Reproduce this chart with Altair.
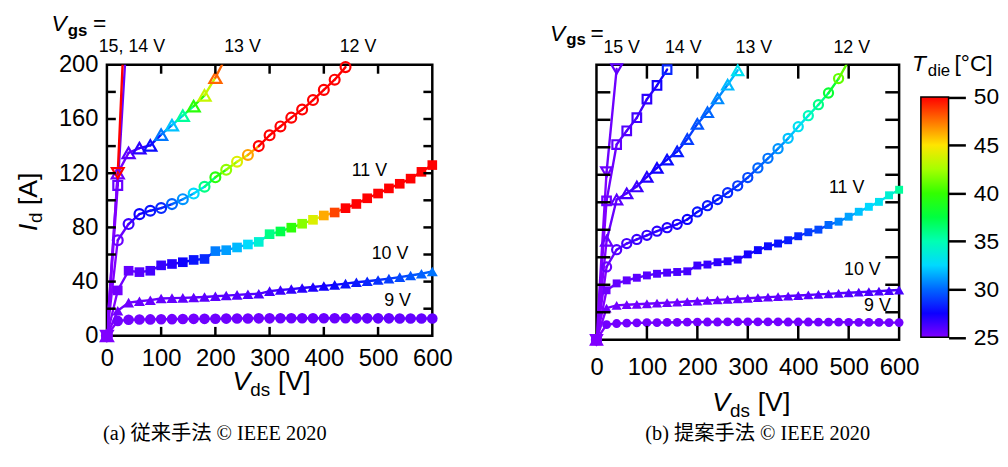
import colorsys
import altair as alt
import pandas as pd

# ---------------- data ----------------
V_GRID = [0, 20, 40, 60, 80, 100, 120, 140, 160, 180, 200, 220, 240, 260, 280, 300,
          320, 340, 360, 380, 400, 420, 440, 460, 480, 500, 520, 540, 560, 580, 600]

X_LABELS = [0, 100, 200, 300, 400, 500, 600]
Y_LABELS = [0, 40, 80, 120, 160, 200]
X_TICKS = [100, 200, 300, 400, 500]
Y_TICKS = [20, 40, 60, 80, 100, 120, 140, 160, 180]
CB_LABELS = [25, 30, 35, 40, 45, 50]
T_MIN, T_MAX = 25, 50

# (a) conventional method: drain current I_d [A] and die temperature [degC] per V_gs
A9_I = [0, 11.0, 11.8, 12.0, 12.1, 12.2, 12.3, 12.4, 12.5, 12.5, 12.6, 12.7, 12.8, 12.8, 12.9, 12.9,
        13.0, 13.0, 13.0, 13.0, 13.0, 13.0, 13.0, 12.9, 12.9, 12.9, 12.9, 12.8, 12.8, 12.8, 12.8]
A9_T = [25.0, 25.3, 25.3, 25.3, 25.3, 25.3, 25.3, 25.3, 25.3, 25.4, 25.4, 25.4, 25.4, 25.4, 25.4, 25.4,
        25.5, 25.5, 25.5, 25.5, 25.5, 25.5, 25.5, 25.5, 25.6, 25.6, 25.6, 25.6, 25.6, 25.6, 25.6]
A10_I = [0, 18.5, 24.5, 25.5, 26.3, 27.5, 27.8, 28.0, 28.3, 28.6, 29.2, 29.7, 30.2, 30.7, 31.0, 33.0,
         33.8, 34.5, 35.3, 36.0, 36.8, 37.6, 38.5, 39.5, 40.3, 41.2, 42.2, 43.3, 44.5, 45.8, 47.5]
A10_T = [25.0, 25.3, 25.4, 25.5, 25.5, 25.6, 25.6, 25.7, 25.7, 25.8, 25.8, 25.9, 25.9, 26.0, 26.1, 26.3,
         26.5, 26.7, 26.9, 27.1, 27.4, 27.7, 27.9, 28.1, 28.4, 28.7, 29.0, 29.3, 29.6, 29.9, 30.3]
A11_I = [0, 33.5, 48.0, 47.0, 48.0, 52.0, 53.0, 54.3, 56.0, 56.7, 62.5, 63.2, 65.2, 67.4, 69.3, 75.0,
         77.0, 79.8, 82.7, 85.6, 88.8, 91.0, 94.2, 97.3, 101.5, 105.0, 108.8, 112.2, 116.0, 121.0, 126.0]
A11_T = [25.0, 25.3, 25.6, 25.9, 26.3, 26.6, 27.0, 27.5, 28.0, 28.5, 30.5, 31.2, 31.8, 32.6, 34.0, 36.0,
         37.3, 39.7, 41.8, 44.0, 46.3, 48.5, 50.0, 50.0, 50.0, 50.0, 50.0, 50.0, 50.0, 50.0, 50.0]
A12_I = [0, 70.5, 82.5, 89.8, 92.3, 94.3, 97.2, 100.8, 105.0, 110.0, 117.0, 122.5, 128.5, 133.5, 140.0,
         148.0, 154.5, 161.0, 167.0, 174.0, 181.5, 189.0, 198.3]
A12_T = [25.0, 25.5, 26.5, 27.5, 28.0, 28.5, 30.0, 31.0, 32.5, 36.0, 39.5, 42.0, 44.0, 46.5, 50.0,
         50.0, 50.0, 50.0, 50.0, 50.0, 50.0, 50.0, 50.0]
A13_I = [0, 120.0, 135.0, 138.5, 140.5, 148.5, 155.5, 162.5, 169.5, 177.5, 190.5, 206.0]
A13_T = [25.0, 25.3, 25.8, 26.8, 27.8, 30.4, 32.0, 35.5, 39.6, 43.4, 47.8, 48.5]
A14_I = [0, 111.0, 245.0]
A14_T = [25.0, 25.5, 26.0]
A15_I = [0, 120.0, 300.0]
A15_T = [25.0, 50.0, 50.0]

# (b) proposed method
B9_I = [0, 11.0, 11.8, 12.1, 12.3, 12.4, 12.5, 12.6, 12.7, 12.8, 12.8, 12.9, 12.9, 13.0, 13.0, 13.0,
        13.0, 13.0, 13.0, 12.9, 12.9, 12.9, 12.8, 12.8, 12.8, 12.7, 12.7, 12.6, 12.6, 12.5, 12.5]
B9_T = [25.0, 25.3, 25.3, 25.3, 25.3, 25.3, 25.3, 25.3, 25.3, 25.3, 25.3, 25.3, 25.3, 25.3, 25.3, 25.3,
        25.3, 25.3, 25.3, 25.3, 25.3, 25.3, 25.3, 25.3, 25.3, 25.3, 25.3, 25.3, 25.3, 25.3, 25.3]
B10_I = [0, 23.0, 25.0, 25.5, 25.8, 26.2, 26.6, 27.0, 27.4, 27.8, 28.2, 28.6, 29.0, 29.4, 29.8, 30.2,
         30.6, 31.0, 31.4, 31.8, 32.2, 32.6, 33.0, 33.4, 33.8, 34.2, 34.6, 35.0, 35.4, 35.8, 36.2]
B10_T = [25.0, 25.3, 25.3, 25.3, 25.3, 25.4, 25.4, 25.4, 25.4, 25.5, 25.5, 25.5, 25.5, 25.6, 25.6, 25.6,
         25.7, 25.7, 25.7, 25.8, 25.8, 25.8, 25.9, 25.9, 25.9, 26.0, 26.0, 26.1, 26.1, 26.2, 26.2]
B11_I = [0, 36.0, 41.0, 43.2, 45.1, 46.8, 48.0, 48.8, 49.3, 49.8, 54.0, 54.7, 56.4, 57.1, 58.3, 62.1,
         65.2, 68.0, 70.0, 72.4, 75.3, 78.2, 80.1, 83.5, 85.9, 89.5, 93.1, 96.7, 100.3, 105.1, 109.1]
B11_T = [25.0, 25.4, 25.6, 25.7, 25.8, 25.9, 26.0, 26.1, 26.2, 26.3, 26.5, 26.6, 26.8, 26.9, 27.0, 27.3,
         27.6, 27.8, 28.0, 28.2, 28.4, 29.0, 29.3, 30.0, 30.7, 31.3, 32.0, 32.5, 33.0, 34.0, 35.5]
B12_I = [0, 53.0, 65.5, 70.0, 73.0, 76.0, 79.0, 81.5, 84.0, 87.5, 93.0, 97.5, 102.0, 107.0, 112.0,
         118.0, 125.0, 132.0, 139.0, 146.5, 155.0, 163.0, 171.0, 179.5, 190.0, 203.0]
B12_T = [25.0, 25.5, 26.0, 26.3, 26.5, 26.7, 26.8, 27.0, 27.2, 27.5, 28.0, 28.1, 28.3, 28.5, 28.9,
         29.3, 30.0, 30.3, 31.0, 32.0, 33.0, 34.7, 36.0, 38.0, 41.0, 42.0]
B13_I = [0, 72.0, 102.0, 106.5, 111.5, 118.5, 125.0, 131.0, 137.0, 146.0, 157.0, 165.5, 175.5, 185.5, 196.0]
B13_T = [25.0, 25.5, 25.8, 26.2, 26.5, 27.0, 27.4, 27.8, 28.2, 29.0, 29.6, 30.0, 30.8, 31.8, 33.0]
B14_I = [0, 101.0, 142.0, 152.0, 161.5, 175.0, 185.0, 196.5]
B14_T = [25.0, 25.4, 25.7, 26.0, 26.4, 26.8, 27.4, 28.5]
B15_I = [0, 122.0, 197.0]
B15_T = [25.0, 25.4, 25.7]

# curve labels (data coordinates)
A_LAB_TEXT = ["15, 14 V", "13 V", "12 V", "11 V", "10 V", "9 V"]
A_LAB_V = [46, 250, 463, 484, 522, 536]
A_LAB_I = [213, 213, 213, 121.5, 60.5, 25.5]
B_LAB_TEXT = ["15 V", "14 V", "13 V", "12 V", "11 V", "10 V", "9 V"]
B_LAB_V = [50, 172, 312, 506, 496, 527, 557]
B_LAB_I = [212, 212, 212, 212, 110.3, 50.6, 24.5]

CAPTION_A = "(a) 従来手法 © IEEE 2020"
CAPTION_B = "(b) 提案手法 © IEEE 2020"

# ---------------- styling ----------------
SANS = "Liberation Sans"
SERIF_CJK = "Liberation Serif, Noto Sans CJK JP"

T_STOPS = [T_MIN + k * (T_MAX - T_MIN) / 10 for k in range(11)]


def hue_hex(k):
    r, g, b = colorsys.hsv_to_rgb((270 - 27 * k) / 360.0, 1.0, 1.0)
    return "#%02x%02x%02x" % (round(r * 255), round(g * 255), round(b * 255))


COLOR_STOPS = [hue_hex(k) for k in range(11)]
CSCALE = alt.Scale(domain=T_STOPS, range=COLOR_STOPS, interpolate="rgb", clamp=True)

MARKS = {"9": ("circle", True), "10": ("triangle-up", True), "11": ("square", True),
         "12": ("circle", False), "13": ("triangle-up", False), "14": ("square", False),
         "15": ("triangle-down", False)}

ONE = pd.DataFrame({"k": [0]})


def txt(s, x, y, size, style="normal", weight="normal", angle=0, align="left", font=SANS):
    return alt.Chart(ONE).mark_text(
        text=s, font=font, fontSize=size, fontStyle=style, fontWeight=weight, angle=angle,
        align=align, baseline="alphabetic", color="black"
    ).encode(x=alt.value(x), y=alt.value(y))


def build_layers(curves, sizes, W, H, tick_len, xlab_pad, show_y, lab_text, lab_v, lab_i, annots):
    xs = alt.Scale(domain=[0, 600], nice=False, zero=False)
    ys = alt.Scale(domain=[0, 200], nice=False, zero=False)
    xax = alt.Axis(values=X_LABELS, title=None, ticks=False, domain=False, grid=False,
                   labelFont=SANS, labelFontSize=24, labelColor="black", labelPadding=xlab_pad,
                   labelFlush=False, labelOverlap=False, labelAngle=0)
    if show_y:
        yax = alt.Axis(values=Y_LABELS, title=None, ticks=False, domain=False, grid=False,
                       labelFont=SANS, labelFontSize=24, labelColor="black", labelPadding=9,
                       labelFlush=False, labelOverlap=False)
    else:
        yax = None

    def X(f):
        return alt.X(f, type="quantitative", scale=xs, axis=xax)

    def Y(f):
        return alt.Y(f, type="quantitative", scale=ys, axis=yax)

    layers = []
    seg_rows = []
    for key, (I, T) in curves.items():
        V = V_GRID[:len(I)]
        for j in range(len(I) - 1):
            seg_rows.append({"V0": V[j], "I0": I[j], "V1": V[j + 1], "I1": I[j + 1], "T0": T[j]})
    layers.append(
        alt.Chart(pd.DataFrame(seg_rows)).mark_rule(strokeWidth=2.4, strokeCap="round", clip=True)
        .encode(x=X("V0"), y=Y("I0"), x2="V1:Q", y2="I1:Q",
                color=alt.Color("T0:Q", scale=CSCALE, legend=None))
    )
    for key, (I, T) in curves.items():
        shape, filled = MARKS[key]
        df = pd.DataFrame({"V": V_GRID[:len(I)], "I": I, "T": T})
        layers.append(
            alt.Chart(df).transform_filter("datum.I <= 201")
            .mark_point(shape=shape, filled=filled, size=sizes[key], strokeWidth=2.2, opacity=1)
            .encode(x=X("V"), y=Y("I"), color=alt.Color("T:Q", scale=CSCALE, legend=None))
        )
    tx = pd.DataFrame({"v": X_TICKS})
    ty = pd.DataFrame({"a": Y_TICKS})
    rule = dict(strokeWidth=2.5, color="black")
    layers += [
        alt.Chart(tx).mark_rule(**rule).encode(x=X("v"), y=alt.value(H), y2=alt.value(H - tick_len)),
        alt.Chart(tx).mark_rule(**rule).encode(x=X("v"), y=alt.value(0), y2=alt.value(tick_len)),
        alt.Chart(ty).mark_rule(**rule).encode(y=Y("a"), x=alt.value(0), x2=alt.value(tick_len)),
        alt.Chart(ty).mark_rule(**rule).encode(y=Y("a"), x=alt.value(W), x2=alt.value(W - tick_len)),
    ]
    lab = pd.DataFrame({"txt": lab_text, "V": lab_v, "I": lab_i})
    layers.append(
        alt.Chart(lab).mark_text(font=SANS, fontSize=18, align="center", baseline="middle", color="black")
        .encode(x=X("V"), y=Y("I"), text="txt:N")
    )
    layers += annots
    return layers


# ---------------- panel (a) ----------------
WA, HA = 329, 274
curves_a = {"9": (A9_I, A9_T), "10": (A10_I, A10_T), "11": (A11_I, A11_T), "12": (A12_I, A12_T),
            "13": (A13_I, A13_T), "14": (A14_I, A14_T), "15": (A15_I, A15_T)}
sizes_a = {"9": 115, "10": 125, "11": 95, "12": 100, "13": 150, "14": 80, "15": 140}
annots_a = [
    txt("V", -56, -34, 23, style="italic"),
    txt("gs", -39.5, -29.5, 17, weight="bold"),
    txt("=", -14, -34, 23),
    txt("V", 127, 329, 27, style="italic"),
    txt("ds", 145, 335, 19),
    txt("[V]", 173, 329, 27),
    txt("I", -71, 168, 27, style="italic", angle=270),
    txt("d", -66, 160, 19, angle=270),
    txt("[A]", -71, 142, 27, angle=270),
    txt(CAPTION_A, 109, 379, 20.5, align="center", font=SERIF_CJK),
]
panel_a = alt.layer(*build_layers(curves_a, sizes_a, WA, HA, 9, 11, True,
                                  A_LAB_TEXT, A_LAB_V, A_LAB_I, annots_a)).properties(width=WA, height=HA)

# ---------------- panel (b) ----------------
WB, HB = 306, 278
curves_b = {"9": (B9_I, B9_T), "10": (B10_I, B10_T), "11": (B11_I, B11_T), "12": (B12_I, B12_T),
            "13": (B13_I, B13_T), "14": (B14_I, B14_T), "15": (B15_I, B15_T)}
sizes_b = {"9": 80, "10": 105, "11": 64, "12": 85, "13": 125, "14": 75, "15": 120}
annots_b = [
    txt("V", -47, -24, 23, style="italic"),
    txt("gs", -30.5, -20, 17, weight="bold"),
    txt("=", -6, -24, 23),
    txt("V", 117, 350, 27, style="italic"),
    txt("ds", 135, 356, 19),
    txt("[V]", 163, 350, 27),
    txt(CAPTION_B, 163, 379, 20.5, align="center", font=SERIF_CJK),
    txt("T", 319, 6, 23, style="italic"),
    txt("die", 335, 11.5, 17),
    txt("[°C]", 362, 6, 23),
]
main_b = alt.layer(*build_layers(curves_b, sizes_b, WB, HB, 14, 16, False,
                                 B_LAB_TEXT, B_LAB_V, B_LAB_I, annots_b))

CB = pd.DataFrame({"lo": [T_MIN], "hi": [T_MAX]})
gradient = alt.LinearGradient(
    gradient="linear",
    stops=[alt.GradientStop(color=c, offset=k / 10) for k, c in enumerate(COLOR_STOPS)],
    x1=0, x2=0, y1=1, y2=0,
)
colorbar = alt.Chart(CB).mark_rect(fill=gradient, stroke="black", strokeWidth=1.5).encode(
    y=alt.Y("lo:Q", scale=alt.Scale(domain=[24.75, 53.35], nice=False, zero=False),
            axis=alt.Axis(orient="right", offset=50, values=CB_LABELS, tickSize=17, tickWidth=2.5,
                          tickColor="black", domain=False, grid=False, labelFont=SANS,
                          labelFontSize=23, labelColor="black", labelPadding=8, title=None,
                          labelFlush=False, labelOverlap=False)),
    y2="hi:Q",
    x=alt.value(328),
    x2=alt.value(356),
)
panel_b = alt.layer(main_b, colorbar).resolve_scale(y="independent").properties(width=WB, height=HB)

chart = (
    alt.hconcat(panel_a, panel_b, spacing=95)
    .resolve_scale(x="independent", y="independent")
    .properties(padding={"left": 5, "top": 1, "right": 0, "bottom": 0}, background="white")
    .configure_view(stroke="black", strokeWidth=2.5)
)

chart.save("out.html", embed_options={"renderer": "svg", "actions": False})
